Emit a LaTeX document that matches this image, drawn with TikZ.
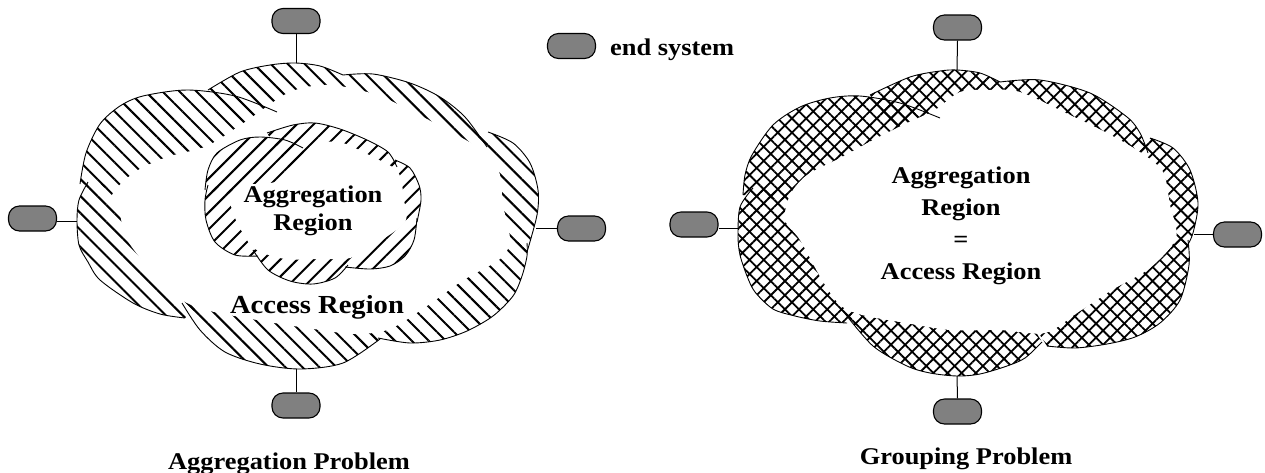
\documentclass[tikz,border=0pt]{standalone}
\usepackage{fontspec}
\newfontfamily\lblfont[FakeStretch=1.1]{Liberation Serif}
\usetikzlibrary{patterns.meta}
\definecolor{pillgray}{RGB}{128,128,128}
\tikzset{
  endsys/.style={draw, line width=1.1pt, fill=pillgray, rounded corners=11pt,
    minimum width=48pt, minimum height=25pt, inner sep=0pt},
  wire/.style={line width=1pt},
  outline/.style={line width=0.9pt},
  lbl/.style={font=\lblfont\bfseries\fontsize{24}{28}\selectfont, inner sep=0pt, align=center},
  lblwide/.style={font=\lblfont\bfseries\fontsize{24}{32}\selectfont, inner sep=0pt, align=center},
  lblbig/.style={font=\lblfont\bfseries\fontsize{26}{30}\selectfont, inner sep=0pt, align=center},
  hatchA/.style={pattern={Lines[angle=-45,distance=12pt,line width=2pt]}},
  hatchB/.style={pattern={Lines[angle=45,distance=12pt,line width=2pt]}},
  hatchC/.style={pattern={Hatch[angle=45,distance=10pt,line width=1.8pt]}},
}
\begin{document}
\begin{tikzpicture}[x=1pt,y=-1pt]
\useasboundingbox (0,0) rectangle (1265,472);

% ================= LEFT: outer cloud =================
\def\LOa{(80,184) (86,153) (100,124) (120,106) (143,96) (187,90) (235,96) (277,112)}
\def\LOb{(208,90) (240,72) (270,65) (295,63) (320,66) (343,75)}
\def\LOc{(343,75) (373,74) (410,83) (440,97) (465,117) (487,147)}
\def\LOd{(488,132) (513,143) (530,163) (538,190) (537,215) (527,252)}
\def\LOe{(527,243) (527,256) (522,276) (513,296) (493,316) (467,331) (440,340) (410,343) (378,338)}
\def\LOf{(380,339) (343,363) (300,369) (260,364) (225,352) (200,330) (182,303)}
\def\LOg{(88,182) (79,200) (77,220) (79,245) (88,262) (100,280) (133,303) (160,314) (185,318)}
\foreach \b in {\LOa,\LOb,\LOc,\LOd,\LOe,\LOf,\LOg}{
  \fill[hatchA] (307,216) -- plot[smooth] coordinates {\b} -- cycle;
}
\fill[white] plot[smooth cycle] coordinates {(112,195) (135,172) (167,157) (207,146) (245,122) (290,92) (330,85) (377,95) (417,114) (453,133) (490,155) (500,175) (503,205) (510,240) (500,259) (462,281) (427,306) (390,329) (355,334) (307,328) (257,320) (210,311) (185,302) (163,286) (140,258) (125,236) (120,215)};
\foreach \b in {\LOa,\LOb,\LOc,\LOd,\LOe,\LOf,\LOg}{
  \draw[outline] plot[smooth] coordinates {\b};
}

% ================= LEFT: inner cloud =================
\def\ICa{(205,190) (208,170) (217,153) (240,140) (260,137) (285,140) (303,148)}
\def\ICb{(267,133) (293,125) (315,123) (340,129) (367,140) (388,152) (397,167)}
\def\ICc{(395,160) (410,168) (419,185) (421,200) (417,222)}
\def\ICd{(417,218) (414,240) (405,256) (390,266) (370,269) (345,267)}
\def\ICe{(348,265) (335,278) (313,284) (290,281) (268,270) (253,250)}
\def\ICf{(258,256) (235,255) (215,242) (206,220) (205,200) (208,185)}
\foreach \b in {\ICa,\ICb,\ICc,\ICd,\ICe,\ICf}{
  \fill[white] (312,205) -- plot[smooth] coordinates {\b} -- cycle;
}
\foreach \b in {\ICa,\ICb,\ICc,\ICd,\ICe,\ICf}{
  \fill[hatchB] (312,205) -- plot[smooth] coordinates {\b} -- cycle;
}
\fill[white] plot[smooth cycle] coordinates {(231,205) (238,186) (275,182) (300,163) (320,145) (340,142) (375,158) (398,172) (404,200) (405,222) (377,243) (350,258) (320,259) (285,259) (255,249) (240,228)};
\foreach \b in {\ICa,\ICb,\ICc,\ICd,\ICe,\ICf}{
  \draw[outline] plot[smooth] coordinates {\b};
}

% ================= RIGHT: cloud =================
\def\ROa{(743,195) (745,175) (752,155) (773,125) (800,107) (830,98) (860,96) (900,103) (940,118)}
\def\ROb{(870,95) (910,77) (940,71) (957,70) (980,73) (1000,82)}
\def\ROc{(1000,82) (1040,80) (1090,93) (1127,117) (1140,133) (1148,153)}
\def\ROd{(1150,138) (1173,148) (1190,170) (1198,203) (1193,233) (1187,246)}
\def\ROe{(1188,240) (1189,265) (1180,300) (1160,323) (1135,337) (1107,344) (1075,348) (1047,346)}
\def\ROf{(1042,342) (1025,358) (1007,366) (980,374) (957,376) (930,373) (907,366) (873,346) (843,311)}
\def\ROg{(847,323) (820,321) (795,316) (773,309) (755,292) (747,276) (740,255) (738,236) (740,207) (753,188)}
\foreach \b in {\ROa,\ROb,\ROc,\ROd,\ROe,\ROf,\ROg}{
  \fill[hatchC] (968,223) -- plot[smooth] coordinates {\b} -- cycle;
}
\fill[white] plot[smooth cycle] coordinates {(785,220) (790,195) (807,175) (840,158) (873,140) (907,123) (935,110) (960,92) (990,90) (1020,92) (1070,115) (1105,132) (1140,152) (1163,172) (1170,205) (1176,238) (1150,268) (1112,290) (1077,313) (1045,333) (1000,330) (950,330) (900,322) (862,315) (840,305) (822,280) (800,240)};
\foreach \b in {\ROa,\ROb,\ROc,\ROd,\ROe,\ROf,\ROg}{
  \draw[outline] plot[smooth] coordinates {\b};
}

% ================= end systems =================
\coordinate (LcT) at (296,63);
\coordinate (LcL) at (77,221);
\coordinate (LcR) at (536,228);
\coordinate (LcB) at (296,369);
\coordinate (RcT) at (957,70);
\coordinate (RcL) at (738,228);
\coordinate (RcR) at (1194,234);
\coordinate (RcB) at (957,376);

\node[endsys] (LeT) at (296,21) {};
\node[endsys] (LeL) at (32.5,218.5) {};
\node[endsys] (LeR) at (581.5,228.5) {};
\node[endsys] (LeB) at (296,405.5) {};
\node[endsys] (ReT) at (957.5,27.5) {};
\node[endsys] (ReL) at (694,224.5) {};
\node[endsys] (ReR) at (1237.5,234.5) {};
\node[endsys] (ReB) at (957.5,411.5) {};
\node[endsys] (legend) at (571.5,46) {};

\draw[wire] (LeT.south) -- (LcT);
\draw[wire] (LeL.east |- LcL) -- (LcL);
\draw[wire] (LeR.west |- LcR) -- (LcR);
\draw[wire] (LeB.north) -- (LcB);
\draw[wire] (ReT.south) -- (RcT);
\draw[wire] (ReL.east |- RcL) -- (RcL);
\draw[wire] (ReR.west |- RcR) -- (RcR);
\draw[wire] (ReB.north) -- (RcB);

% ================= texts =================
\node[lbl, anchor=base west] (legtext) at (610,55) {end system};
\node[lbl, anchor=base] (aggL) at (313,230) {Aggregation\\Region};
\node[lblbig, anchor=base] (accL) at (317,313) {Access Region};
\node[lblwide, anchor=base] (aggR) at (961,279) {Aggregation\\Region\\=\\Access Region};
\node[lbl, anchor=base] (capL) at (289,469) {Aggregation Problem};
\node[lbl, anchor=base] (capR) at (966,464) {Grouping Problem};
\end{tikzpicture}
\end{document}
